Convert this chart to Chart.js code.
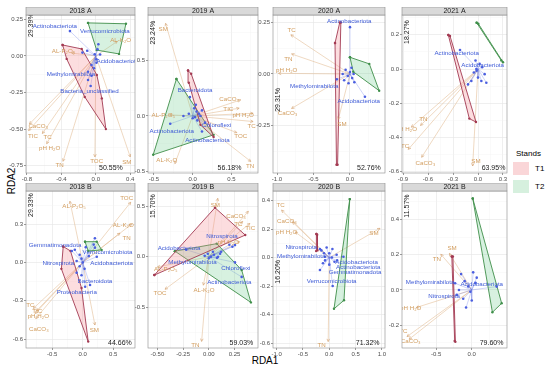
<!DOCTYPE html>
<html>
<head>
<meta charset="utf-8">
<script src="https://cdn.jsdelivr.net/npm/chart.js@4.4.1/dist/chart.umd.min.js"></script>
<style>
  body { margin: 0; background: #fff; }
  #fig { position: relative; width: 550px; height: 371px; overflow: hidden; font-family: "Liberation Sans", Arial, sans-serif; }
  #fig canvas { position: absolute; }
  .lab { position: absolute; color: #000; white-space: nowrap; }
  .sw { position: absolute; width: 16px; height: 13px; }
</style>
</head>
<body>
<div id="fig">
  <div class="lab" style="left:245px;top:355px;width:40px;text-align:center;font-size:10px;line-height:12px">RDA1</div>
  <div class="lab" style="left:-8px;top:175px;width:40px;text-align:center;font-size:10px;line-height:12px;transform:rotate(-90deg)">RDA2</div>
  <div class="lab" style="left:516px;top:149px;font-size:8px;line-height:10px">Stands</div>
  <div class="sw" style="left:513px;top:162px;background:#fad6d8"></div>
  <div class="lab" style="left:535px;top:164px;font-size:8px;line-height:10px">T1</div>
  <div class="sw" style="left:513px;top:180px;background:#d6f0de"></div>
  <div class="lab" style="left:535px;top:182px;font-size:8px;line-height:10px">T2</div>
</div>
<script>
// env arrows: name, tip x, tip y, label x, label y
const env2018A = [["AL-P₂O₅", -0.28, 0.02, -0.375, 0.034], ["AL-K₂O", 0.25, 0.10, 0.288, 0.11], ["CaCO₃", -0.77, -0.465, -0.668, -0.48], ["TIC", -0.78, -0.51, -0.73, -0.55], ["TC", -0.62, -0.53, -0.56, -0.555], ["pH H₂O", -0.57, -0.60, -0.536, -0.63], ["TN", -0.38, -0.72, -0.42, -0.75], ["TOC", -0.01, -0.69, 0.01, -0.72], ["SM", 0.40, -0.69, 0.36, -0.73]];
const env2019A = [["SM", -0.35, 0.835, -0.38, 0.78], ["CaCO₃", 0.62, 0.145, 0.47, 0.15], ["TIC", 0.60, 0.07, 0.46, 0.063], ["pH H₂O", 0.78, 0.024, 0.65, 0.003], ["TC", 0.78, -0.05, 0.76, -0.09], ["TOC", 0.57, -0.15, 0.62, -0.186], ["TN", 0.75, -0.41, 0.74, -0.45], ["AL-K₂O", -0.23, -0.43, -0.335, -0.40], ["AL-P₂O₅", -0.30, 0.01, -0.38, 0.01]];
const env2020A = [["TC", -0.81, 0.19, -0.80, 0.214], ["TN", -0.80, 0.097, -0.845, 0.071], ["pH H₂O", -0.98, 0.003, -0.867, 0.016], ["CaCO₃", -0.80, -0.167, -0.856, -0.19], ["SM", -0.16, -0.22, -0.11, -0.243]];
const env2021A = [["TN", -0.69, -0.33, -0.657, -0.294], ["pH H₂O", -0.80, -0.34, -0.86, -0.353], ["TC", -0.837, -0.47, -0.876, -0.45], ["CaCO₃", -0.676, -0.516, -0.632, -0.55], ["SM", -0.064, -0.567, -0.024, -0.542]];
const env2018B = [["AL-P₂O₅", -0.21, 0.48, -0.143, 0.443], ["TOC", 0.787, 0.472, 0.72, 0.50], ["AL-K₂O", 0.80, 0.30, 0.666, 0.294], ["TN", 0.61, 0.23, 0.72, 0.19], ["TC", -0.81, -0.36, -0.86, -0.333], ["TIC", -0.76, -0.38, -0.744, -0.38], ["pH H₂O", -0.78, -0.40, -0.728, -0.425], ["CaCO₃", -0.77, -0.44, -0.72, -0.52], ["SM", 0.20, -0.49, 0.19, -0.53]];
const env2019B = [["SM", 0.087, 0.578, 0.064, 0.51], ["CaCO₃", 0.385, 0.45, 0.265, 0.396], ["TC", 0.33, 0.35, 0.288, 0.32], ["TIC", 0.40, 0.33, 0.404, 0.28], ["pH H₂O", 0.30, 0.15, 0.19, 0.148], ["AL-P₂O₅", -0.50, -0.10, -0.42, -0.12], ["TOC", -0.426, -0.32, -0.475, -0.36], ["AL-K₂O", -0.053, -0.28, -0.047, -0.33], ["TN", -0.07, -0.835, -0.13, -0.874]];
const env2020B = [["TC", -0.907, 0.333, -0.925, 0.368], ["CaCO₃", -0.70, 0.25, -0.806, 0.256], ["pH H₂O", -0.65, 0.18, -0.81, 0.177], ["SM", 0.965, 0.205, 0.85, 0.17], ["TN", -0.02, -0.59, -0.145, -0.614]];
const env2021B = [["SM", -0.314, 0.208, -0.276, 0.237], ["TN", -0.435, 0.203, -0.49, 0.176], ["pH H₂O", -0.78, -0.10, -0.858, -0.104], ["TC", -0.91, -0.265, -0.96, -0.233], ["CaCO₃", -0.88, -0.28, -0.858, -0.294]];

// labelled taxa: name, point x, point y, label x, label y
const spp2018A = [["Actinobacteriota", -0.30, 0.17, -0.475, 0.205], ["Verrucomicrobiota", 0.03, 0.08, 0.105, 0.171], ["Acidobacteriota", 0.05, 0.01, 0.256, -0.034], ["Methylomirabilota", -0.05, -0.135, -0.288, -0.125], ["Bacteria_unclassified", -0.06, -0.205, -0.073, -0.24]];
const spp2019A = [["Bacteroidota", -0.035, 0.17, 0.03, 0.23], ["Actinobacteriota", -0.29, -0.07, -0.27, -0.14], ["Actinobacteriota", 0.12, -0.14, 0.19, -0.22], ["Chloroflexi", 0.16, -0.06, 0.31, -0.08]];
const spp2020A = [["Actinobacteriota", 0.0, 0.227, -0.01, 0.254], ["Methylomirabilota", -0.18, -0.026, -0.49, -0.058], ["Acidobacteriota", 0.205, -0.11, 0.12, -0.134]];
const spp2021A = [["Actinobacteriota", -0.216, 0.111, -0.256, 0.092], ["Acidobacteriota", -0.016, -0.01, 0.056, 0.023]];
const spp2018B = [["Gemmatimonadota", -0.18, 0.09, -0.454, 0.137], ["Verrucomicrobiota", 0.20, 0.116, 0.407, 0.08], ["Nitrospirota", -0.10, 0.012, -0.40, -0.006], ["Acidobacteriota", 0.23, 0.045, 0.475, -0.006], ["Bacteroidota", 0.12, -0.176, 0.20, -0.145], ["Proteobacteria", 0.04, -0.19, -0.098, -0.234]];
const spp2019B = [["Nitrospirota", 0.255, 0.116, 0.128, 0.205], ["Acidobacteriota", -0.22, 0.07, -0.29, 0.083], ["Methylomirabilota", 0.09, 0.0, -0.159, -0.055], ["Chloroflexi", 0.255, -0.055, 0.263, -0.115], ["Actinobacteriota", 0.32, -0.198, 0.20, -0.247]];
const spp2020B = [["Nitrospirota", -0.177, 0.06, -0.533, 0.074], ["Methylomirabilota", -0.08, 0.006, -0.533, 0.006], ["Acidobacteriota", 0.27, 0.006, 0.52, -0.034], ["Actinobacteriota", 0.15, -0.02, 0.55, -0.067], ["Gemmatimonadota", -0.177, -0.088, 0.49, -0.107], ["Verrucomicrobiota", 0.065, -0.2, 0.045, -0.17]];
const spp2021B = [["Methylomirabilota", -0.234, 0.038, -0.585, 0.044], ["Acidobacteriota", 0.35, 0.019, 0.14, 0.032], ["Nitrospirota", -0.21, -0.028, -0.388, -0.034]];

// unlabelled taxa
const pts2018A = [[-0.155, 0.023], [-0.10, 0.036], [-0.012, 0.012], [0.008, -0.023], [0.02, 0.046], [-0.05, -0.062], [-0.02, -0.084], [-0.09, -0.108], [0.008, -0.046], [-0.09, -0.164]];
const pts2019A = [[0.02, 0.07], [0.05, 0.04], [0.08, 0.02], [0.1, 0.0], [0.03, -0.01], [0.12, 0.05], [-0.05, 0.02], [0.0, -0.02], [0.06, -0.04], [-0.12, 0.0], [0.04, 0.1]];
const pts2020A = [[-0.1, 0.0], [-0.06, 0.02], [-0.03, -0.01], [0.0, 0.01], [0.03, -0.02], [0.06, -0.04], [-0.08, -0.03], [0.02, 0.03], [-0.02, -0.045], [0.05, 0.0]];
const pts2021A = [[-0.12, -0.09], [-0.08, -0.07], [-0.05, -0.02], [-0.02, 0.0], [0.02, 0.03], [0.05, 0.01], [0.08, -0.03], [0.1, -0.08], [0.0, -0.05], [-0.03, 0.05], [0.04, -0.07]];
const pts2018B = [[0.2, 0.19], [0.18, 0.14], [0.05, 0.12], [-0.05, 0.06], [-0.02, 0.03], [0.0, 0.0], [-0.05, -0.03], [0.03, -0.05], [-0.1, -0.08], [0.1, 0.05], [-0.02, -0.10], [-0.13, 0.1]];
const pts2019B = [[-0.04, 0.01], [-0.01, 0.03], [0.02, 0.0], [0.05, 0.02], [0.08, -0.01], [0.11, 0.03], [0.12, 0.05], [0.0, -0.015], [0.04, 0.05], [0.2, 0.12], [0.23, 0.1]];
const pts2020B = [[-0.15, 0.05], [-0.1, 0.03], [-0.05, 0.07], [0.0, 0.03], [0.05, 0.0], [0.1, -0.03], [-0.08, -0.02], [0.0, -0.05], [-0.12, -0.04], [0.14, 0.02], [0.06, 0.06]];
const pts2021B = [[-0.15, 0.09], [-0.1, 0.05], [-0.05, 0.02], [-0.02, -0.01], [0.02, 0.1], [0.05, 0.04], [-0.12, -0.05], [-0.08, -0.1], [0.0, -0.06], [-0.18, 0.0], [0.07, 0.07]];

// stand hulls
const t1_2018A = [[-0.385, 0.075], [-0.163, 0.048], [0.012, -0.13], [0.07, -0.29], [0.117, -0.50], [-0.128, -0.28], [-0.338, -0.02]];
const t2_2018A = [[-0.09, 0.226], [0.35, 0.22], [0.27, 0.014], [0.01, 0.04]];
const t1_2019A = [[-0.06, 0.41], [-0.02, 0.38], [0.27, -0.19], [0.10, -0.08], [-0.05, 0.30]];
const t2_2019A = [[-0.21, 0.333], [-0.51, -0.35], [0.27, -0.17]];
const t1_2020A = [[-0.205, 0.15], [-0.14, 0.25], [-0.125, 0.25], [-0.17, -0.44], [-0.185, -0.44]];
const t2_2020A = [[0.0, 0.081], [0.265, 0.049], [0.40, -0.081], [0.045, 0.011]];
const t1_2021A = [[-0.356, 0.199], [-0.336, 0.193], [-0.024, -0.31], [-0.104, -0.29]];
const t2_2021A = [[-0.016, 0.271], [0.004, 0.265], [0.30, 0.04], [0.28, 0.05]];
const t1_2018B = [[-0.32, 0.125], [-0.20, 0.09], [-0.02, -0.20], [0.09, -0.62], [-0.35, -0.05]];
const t2_2018B = [[0.038, 0.163], [0.23, 0.163], [0.31, 0.098], [0.09, 0.09]];
const t1_2019B = [[-0.53, -0.18], [0.06, 0.485], [0.355, 0.215]];
const t2_2019B = [[-0.33, 0.056], [0.077, 0.13], [0.32, -0.13], [0.41, -0.45]];
const t1_2020B = [[-0.245, 0.165], [-0.23, 0.16], [-0.225, 0.05], [-0.25, 0.045]];
const t2_2020B = [[0.39, 0.41], [0.28, -0.30], [0.09, -0.36]];
const t1_2021B = [[-0.28, 0.19], [-0.265, 0.19], [-0.23, -0.295], [-0.24, -0.29]];
const t2_2021B = [[0.014, 0.52], [0.42, -0.076], [0.29, -0.127]];

// explained variance: [RDA2, RDA1]
const pct2018A = ["29.39%", "50.55%"];
const pct2019A = ["23.24%", "56.18%"];
const pct2020A = ["29.31%", "52.76%"];
const pct2021A = ["18.27%", "63.95%"];
const pct2018B = ["29.33%", "44.66%"];
const pct2019B = ["15.70%", "59.03%"];
const pct2020B = ["16.20%", "71.32%"];
const pct2021B = ["11.57%", "79.60%"];

const FONT = '"Liberation Sans", Arial, sans-serif';
const SP_TEXT = '#3d5ad6', SP_PT = '#4b5fe0', SP_LINE = 'rgba(95,115,230,0.5)';
const ENV_TEXT = '#d29d5e', ENV_LINE = 'rgba(226,186,146,0.8)';
const T1_LINE = '#a33a52', T1_FILL = 'rgba(244,132,140,0.28)';
const T2_LINE = '#3f8f4a', T2_FILL = 'rgba(96,200,130,0.25)';
const YW = 22, XH = 12, SH = 8, PADR = 8;

const cols = [[26, 135], [148, 258], [273, 385], [402, 507]];
const rows = [[7, 173], [183, 348]];

// axis ranges [min, max, major step]; pctY = data y of the vertical label, pctX = data x of the bottom one
const panels = [
  { title: "2018 A", env: env2018A, spp: spp2018A, pts: pts2018A, t1: t1_2018A, t2: t2_2018A, pct: pct2018A, x: [-0.81, 0.455, 0.4], y: [-0.80, 0.28, 0.25], pctY: 0.21, pctX: 0.175 },
  { title: "2019 A", env: env2019A, spp: spp2019A, pts: pts2019A, t1: t1_2019A, t2: t2_2019A, pct: pct2019A, x: [-0.577, 0.843, 0.5], y: [-0.514, 0.91, 0.5], pctY: 0.75, pctX: 0.475 },
  { title: "2020 A", env: env2020A, spp: spp2020A, pts: pts2020A, t1: t1_2020A, t2: t2_2020A, pct: pct2020A, x: [-1.055, 0.48, 0.5], y: [-0.48, 0.286, 0.25], pctY: -0.126, pctX: 0.26 },
  { title: "2021 A", env: env2021A, spp: spp2021A, pts: pts2021A, t1: t1_2021A, t2: t2_2021A, pct: pct2021A, x: [-0.912, 0.348, 0.3], y: [-0.608, 0.316, 0.2], pctY: 0.216, pctX: 0.186 },
  { title: "2018 B", env: env2018B, spp: spp2018B, pts: pts2018B, t1: t1_2018B, t2: t2_2018B, pct: pct2018B, x: [-0.93, 0.857, 0.5], y: [-0.67, 0.56, 0.3], pctY: 0.45, pctX: 0.61 },
  { title: "2019 B", env: env2019B, spp: spp2019B, pts: pts2019B, t1: t1_2019B, t2: t2_2019B, pct: pct2019B, x: [-0.592, 0.479, 0.25], y: [-0.90, 0.65, 0.5], pctY: 0.50, pctX: 0.318 },
  { title: "2020 B", env: env2020B, spp: spp2020B, pts: pts2020B, t1: t1_2020B, t2: t2_2020B, pct: pct2020B, x: [-1.07, 1.06, 0.5], y: [-0.635, 0.467, 0.2], pctY: -0.10, pctX: 0.73 },
  { title: "2021 B", env: env2021B, spp: spp2021B, pts: pts2021B, t1: t1_2021B, t2: t2_2021B, pct: pct2021B, x: [-0.98, 0.495, 0.5], y: [-0.33, 0.5625, 0.2], pctY: 0.477, pctX: 0.278 }
];

const xy = a => a.map(p => ({ x: p[0], y: p[1] }));

function axis(r, horizontal) {
  const [min, max, major] = r;
  const dec = Math.round(major * 100) % 10 === 0 ? 1 : 2;
  const isMajor = v => Math.abs(v / major - Math.round(v / major)) < 1e-6;
  const maj = c => c.tick && isMajor(c.tick.value);
  return {
    type: 'linear', min, max,
    ticks: {
      stepSize: major / 2, includeBounds: false, autoSkip: false, maxRotation: 0, minRotation: 0,
      font: { size: 6, family: FONT }, color: '#4d4d4d', padding: 1,
      callback: v => isMajor(v) ? (Math.abs(v) < 1e-9 ? 0 : v).toFixed(dec) : ''
    },
    grid: {
      color: c => maj(c) ? '#e4e4e4' : '#f3f3f3',
      lineWidth: c => maj(c) ? 0.6 : 0.4,
      tickLength: 2,
      tickColor: c => maj(c) ? '#555' : 'rgba(0,0,0,0)',
      tickWidth: 0.6
    },
    border: { display: false },
    afterFit: s => { if (horizontal) s.height = XH; else s.width = YW; }
  };
}

function decor(p) {
  return {
    id: 'decor',
    afterDatasetsDraw(chart) {
      const { ctx, chartArea: a, scales } = chart;
      const px = v => scales.x.getPixelForValue(v), py = v => scales.y.getPixelForValue(v);
      ctx.save();
      ctx.beginPath();
      ctx.rect(a.left, a.top, a.right - a.left, a.bottom - a.top);
      ctx.clip();
      // arrow heads
      const x0 = px(0), y0 = py(0);
      ctx.strokeStyle = 'rgba(210,160,110,0.9)';
      ctx.lineWidth = 0.7;
      p.env.forEach(e => {
        const x1 = px(e[1]), y1 = py(e[2]);
        const ang = Math.atan2(y1 - y0, x1 - x0);
        ctx.beginPath();
        ctx.moveTo(x1 - 3 * Math.cos(ang - 0.45), y1 - 3 * Math.sin(ang - 0.45));
        ctx.lineTo(x1, y1);
        ctx.lineTo(x1 - 3 * Math.cos(ang + 0.45), y1 - 3 * Math.sin(ang + 0.45));
        ctx.stroke();
      });
      ctx.textAlign = 'center';
      ctx.textBaseline = 'middle';
      ctx.font = '6.2px ' + FONT;
      ctx.fillStyle = ENV_TEXT;
      p.env.forEach(e => ctx.fillText(e[0], px(e[3]), py(e[4])));
      ctx.fillStyle = SP_TEXT;
      p.spp.forEach(s => ctx.fillText(s[0], px(s[3]), py(s[4])));
      // explained variance
      ctx.fillStyle = '#1a1a1a';
      ctx.font = '7px ' + FONT;
      ctx.fillText(p.pct[1], px(p.pctX), a.bottom - 5);
      ctx.translate(a.left + 5, py(p.pctY));
      ctx.rotate(-Math.PI / 2);
      ctx.fillText(p.pct[0], 0, 0);
      ctx.restore();
    },
    afterDraw(chart) {
      const { ctx, chartArea: a } = chart;
      ctx.save();
      ctx.strokeStyle = '#8a8a8a';
      ctx.lineWidth = 0.6;
      ctx.strokeRect(a.left, a.top, a.right - a.left, a.bottom - a.top);
      ctx.fillStyle = '#d9d9d9';
      ctx.fillRect(a.left, a.top - SH, a.right - a.left, SH);
      ctx.strokeRect(a.left, a.top - SH, a.right - a.left, SH);
      ctx.fillStyle = '#1a1a1a';
      ctx.font = '7px ' + FONT;
      ctx.textAlign = 'center';
      ctx.textBaseline = 'middle';
      ctx.fillText(p.title, (a.left + a.right) / 2, a.top - SH / 2 + 0.5);
      ctx.restore();
    }
  };
}

const fig = document.getElementById('fig');
panels.forEach((p, i) => {
  const [l, r] = cols[i % 4];
  const [t, b] = rows[Math.floor(i / 4)];
  const cv = document.createElement('canvas');
  const w = YW + (r - l) + PADR, h = (b - t) + XH;
  cv.width = w; cv.height = h;
  cv.style.left = (l - YW) + 'px';
  cv.style.top = t + 'px';
  cv.style.width = w + 'px';
  cv.style.height = h + 'px';
  fig.appendChild(cv);

  const datasets = [];
  datasets.push({ type: 'scatter', data: xy(p.pts.concat(p.spp.map(s => [s[1], s[2]]))), pointRadius: 1.3, pointBackgroundColor: SP_PT, pointBorderWidth: 0 });
  [[p.t1, T1_LINE, T1_FILL], [p.t2, T2_LINE, T2_FILL]].forEach(([poly, line, fill]) => {
    datasets.push({ type: 'line', data: xy(poly.concat([poly[0]])), borderColor: line, backgroundColor: fill, fill: 'shape', borderWidth: 0.9, tension: 0, pointRadius: 1.2, pointBackgroundColor: line, pointBorderWidth: 0 });
  });
  p.pts.concat(p.spp.map(s => [s[1], s[2]])).forEach(s => {
    datasets.push({ type: 'line', data: [{ x: 0, y: 0 }, { x: s[0], y: s[1] }], borderColor: SP_LINE, borderWidth: 0.6, pointRadius: 0, fill: false });
  });
  p.env.forEach(e => {
    datasets.push({ type: 'line', data: [{ x: 0, y: 0 }, { x: e[1], y: e[2] }], borderColor: ENV_LINE, borderWidth: 0.7, pointRadius: 0, fill: false });
  });

  new Chart(cv, {
    type: 'scatter',
    data: { datasets },
    options: {
      responsive: false, animation: false, devicePixelRatio: 1, events: [],
      layout: { padding: { top: SH, right: PADR, left: 0, bottom: 0 } },
      scales: { x: axis(p.x, true), y: axis(p.y, false) },
      plugins: { legend: { display: false }, tooltip: { enabled: false } }
    },
    plugins: [decor(p)]
  });
});
</script>
</body>
</html>
